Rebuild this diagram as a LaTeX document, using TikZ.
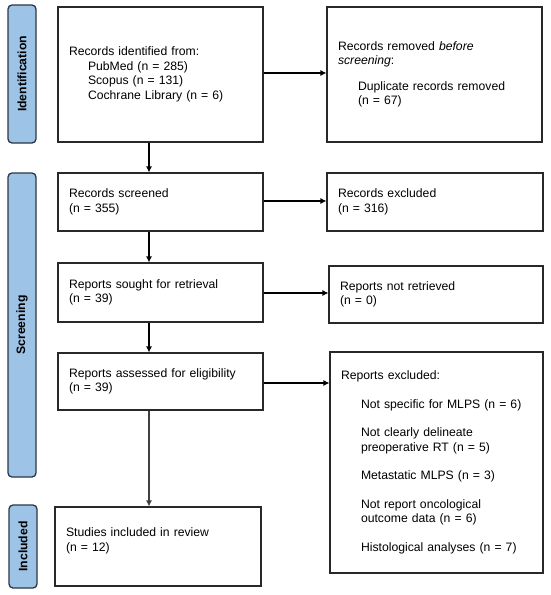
\documentclass[tikz,border=0pt]{standalone}
\usepackage{fontspec}
\setmainfont{Liberation Sans}
\usetikzlibrary{arrows.meta}
\definecolor{barblue}{RGB}{157,195,230}
\definecolor{bardark}{RGB}{45,55,68}
\definecolor{boxline}{RGB}{40,40,40}
\begin{document}
\begin{tikzpicture}[x=1pt,y=-1pt,
  every node/.style={font=\fontsize{12.2}{14.5}\selectfont},
  flowbox/.style={draw=boxline,line width=1.1pt,fill=white,align=left,
    inner xsep=11pt,inner ysep=0pt,anchor=center},
  phasebar/.style={draw=bardark,fill=barblue,line width=1.3pt,rounded corners=4pt,
    minimum width=28pt,inner sep=0pt,
    font=\fontsize{12.2}{14.5}\selectfont\bfseries},
  arr/.style={draw=black,line width=1.1pt,-{Latex[length=6pt,width=6pt]}}
]
\useasboundingbox (0,0) rectangle (550,595);
\fill[white] (0,0) rectangle (550,595);

% phase bars
\node[phasebar,minimum height=138pt] (bid) at (22,74) {};
\node[rotate=90,font=\fontsize{12.2}{14.5}\selectfont\bfseries] (tid) at (bid.center) {Identification};
\node[phasebar,minimum height=304pt] (bscr) at (22,325) {};
\node[rotate=90,font=\fontsize{12.2}{14.5}\selectfont\bfseries] (tscr) at (bscr.center) {Screening};
\node[phasebar,minimum height=83pt] (binc) at (23,546.5) {};
\node[rotate=90,font=\fontsize{12.2}{14.5}\selectfont\bfseries] (tinc) at (binc.center) {Included};

% boxes
\node[flowbox,text width=183pt,minimum height=135pt] (rid) at (160.5,74.5)
  {Records identified from:\\
   \hspace*{19pt}PubMed (n = 285)\\
   \hspace*{19pt}Scopus (n = 131)\\
   \hspace*{19pt}Cochrane Library (n = 6)};
\node[flowbox,text width=193pt,minimum height=135pt] (rrem) at (434.5,74.5)
  {Records removed \textit{before}\\
   \textit{screening}:\\[11pt]
   \hspace*{20pt}Duplicate records removed\\
   \hspace*{20pt}(n = 67)};
\node[flowbox,text width=183pt,minimum height=58pt] (rs) at (160.5,202)
  {Records screened\\(n = 355)};
\node[flowbox,text width=194pt,minimum height=58pt] (rex) at (435,202)
  {Records excluded\\(n = 316)};
\node[flowbox,text width=183pt,minimum height=59pt] (rsought) at (160.5,292.5)
  {Reports sought for retrieval\\(n = 39)};
\node[flowbox,text width=192pt,minimum height=57pt] (rnr) at (436,294.5)
  {Reports not retrieved\\(n = 0)};
\node[flowbox,text width=183pt,minimum height=57pt] (ra) at (160.5,381.5)
  {Reports assessed for eligibility\\(n = 39)};
\node[flowbox,text width=191pt,minimum height=221pt] (rexc) at (436.5,462.5)
  {Reports excluded:\\[14pt]
   \hspace*{20pt}Not specific for MLPS (n = 6)\\[14pt]
   \hspace*{20pt}Not clearly delineate\\
   \hspace*{20pt}preoperative RT (n = 5)\\[14pt]
   \hspace*{20pt}Metastatic MLPS (n = 3)\\[14pt]
   \hspace*{20pt}Not report oncological\\
   \hspace*{20pt}outcome data (n = 6)\\[14pt]
   \hspace*{20pt}Histological analyses (n = 7)};
\node[flowbox,text width=184pt,minimum height=79pt] (inc) at (158,546.5)
  {Studies included in review\\(n = 12)\\[-1pt]~};

% column coordinate for vertical arrows
\coordinate (colx) at (149,0);

% vertical arrows
\draw[arr] (rid.south -| colx) -- (rs.north -| colx);
\draw[arr] (rs.south -| colx) -- (rsought.north -| colx);
\draw[arr] (rsought.south -| colx) -- (ra.north -| colx);
\draw[arr,draw=black!75] (ra.south -| colx) -- (inc.north -| colx);

% horizontal arrows
\draw[arr] (rid.east |- 0,73) -- (rrem.west |- 0,73);
\draw[arr] (rs.east |- 0,201) -- (rex.west |- 0,201);
\draw[arr] (rsought.east |- 0,293) -- (rnr.west |- 0,293);
\draw[arr] (ra.east |- 0,383) -- (rexc.west |- 0,383);
\end{tikzpicture}
\end{document}
